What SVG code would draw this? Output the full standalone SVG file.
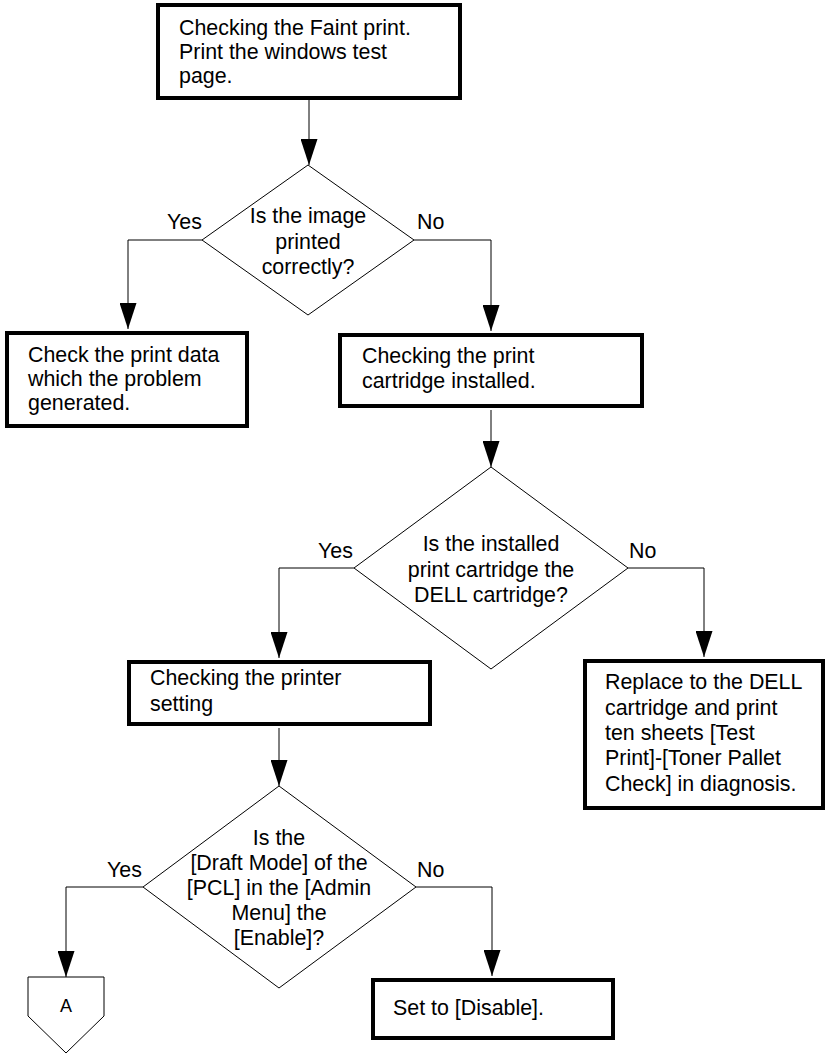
<svg xmlns="http://www.w3.org/2000/svg" width="827" height="1056" viewBox="0 0 827 1056">
<style>
.box{fill:#fff;stroke:#000;stroke-width:4}
.dia{fill:#fff;stroke:#000;stroke-width:1}
.t{font-family:"Liberation Sans",Arial,sans-serif;font-size:21.4px;fill:#000}
.c{text-anchor:middle}
.con{fill:none;stroke:#000;stroke-width:1;marker-end:url(#arr)}
</style>
<defs>
<marker id="arr" markerUnits="userSpaceOnUse" viewBox="0 0 26 17" refX="26" refY="8.5" markerWidth="26" markerHeight="17" orient="auto">
<path d="M0,0 L26,8.5 L0,17 z" fill="#000"/>
</marker>
</defs>
<rect width="827" height="1056" fill="#fff"/>
<g id="connectors">
<path class="con" d="M309,100 L309,165"/>
<path class="con" d="M202,240 L128,240 L128,329"/>
<path class="con" d="M414,240 L491,240 L491,331"/>
<path class="con" d="M491,410 L491,467"/>
<path class="con" d="M354,568 L279,568 L279,658"/>
<path class="con" d="M628,568 L704,568 L704,657"/>
<path class="con" d="M279,728 L279,786"/>
<path class="con" d="M143,887 L66,887 L66,977"/>
<path class="con" d="M416,887 L492,887 L492,976"/>
</g>
<g id="start">
<rect class="box" x="158" y="5" width="302" height="93"/>
<text class="t" x="179" y="35">Checking the Faint print.</text>
<text class="t" x="179" y="59">Print the windows test</text>
<text class="t" x="179" y="83">page.</text>
</g>
<g id="d1">
<polygon class="dia" points="308,165 414,240 308,315 202,240"/>
<text class="t c" x="308" y="223">Is the image</text>
<text class="t c" x="308" y="249">printed</text>
<text class="t c" x="308" y="274">correctly?</text>
<text class="t" x="167" y="229">Yes</text>
<text class="t" x="417" y="229">No</text>
</g>
<g id="checkdata">
<rect class="box" x="7" y="333" width="240" height="93"/>
<text class="t" x="28" y="362">Check the print data</text>
<text class="t" x="28" y="386">which the problem</text>
<text class="t" x="28" y="410">generated.</text>
</g>
<g id="cartridge">
<rect class="box" x="340" y="335" width="302" height="71"/>
<text class="t" x="362" y="363">Checking the print</text>
<text class="t" x="362" y="388">cartridge installed.</text>
</g>
<g id="d2">
<polygon class="dia" points="491,467 628,568 491,669 354,568"/>
<text class="t c" x="491" y="551">Is the installed</text>
<text class="t c" x="491" y="577">print cartridge the</text>
<text class="t c" x="491" y="602">DELL cartridge?</text>
<text class="t" x="318" y="558">Yes</text>
<text class="t" x="629" y="558">No</text>
</g>
<g id="printer">
<rect class="box" x="129" y="662" width="301" height="62"/>
<text class="t" x="150" y="685">Checking the printer</text>
<text class="t" x="150" y="711">setting</text>
</g>
<g id="replace">
<rect class="box" x="585" y="661" width="238" height="147"/>
<text class="t" x="605" y="689">Replace to the DELL</text>
<text class="t" x="605" y="715">cartridge and print</text>
<text class="t" x="605" y="740">ten sheets [Test</text>
<text class="t" x="605" y="765">Print]-[Toner Pallet</text>
<text class="t" x="605" y="791">Check] in diagnosis.</text>
</g>
<g id="d3">
<polygon class="dia" points="279,786 416,887 279,988 143,887"/>
<text class="t c" x="279" y="845">Is the</text>
<text class="t c" x="279" y="870">[Draft Mode] of the</text>
<text class="t c" x="279" y="895">[PCL] in the [Admin</text>
<text class="t c" x="279" y="920">Menu] the</text>
<text class="t c" x="279" y="945">[Enable]?</text>
<text class="t" x="107" y="877">Yes</text>
<text class="t" x="417" y="877">No</text>
</g>
<g id="connA">
<polygon class="dia" points="28,977 104,977 104,1016 66,1053 28,1016"/>
<text class="t c" x="66" y="1012" style="font-size:18px">A</text>
</g>
<g id="disable">
<rect class="box" x="373" y="980" width="240" height="58"/>
<text class="t" x="393" y="1015">Set to [Disable].</text>
</g>
</svg>
